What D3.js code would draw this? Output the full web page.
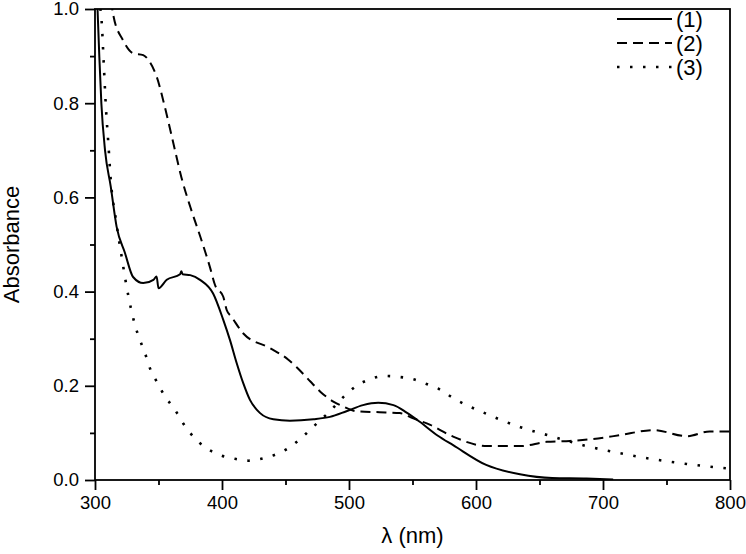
<!DOCTYPE html>
<html>
<head>
<meta charset="utf-8">
<script src="https://cdn.jsdelivr.net/npm/d3@7"></script>
<style>
  html, body { margin: 0; padding: 0; background: #fff; }
  svg { display: block; }
  text { font-family: "Liberation Sans", Arial, sans-serif; fill: #000; }
</style>
</head>
<body>
<svg id="chart" width="746" height="554"></svg>
<script>
// ---- Data ----
const xTicks = [300, 400, 500, 600, 700, 800];
const xMinorTicks = [350, 450, 550, 650, 750];
const yTicks = [0.0, 0.2, 0.4, 0.6, 0.8, 1.0];
const yMinorTicks = [0.1, 0.3, 0.5, 0.7, 0.9];

const seriesNames = ["(1)", "(2)", "(3)"];

const lambda1 = [300, 302, 303.4, 305, 307.9, 312.4, 317, 323.6, 330, 338, 346, 348.5, 350, 356.5, 367, 368, 369, 375, 382.7, 393, 401, 406.3, 411.6, 416.8, 422, 430, 440.4, 453.5, 472, 485, 498, 511, 523, 535, 545.4, 556, 570, 582, 608, 634.6, 660, 687, 708];
const abs1    = [1.15, 1.0, 0.899, 0.80, 0.70, 0.623, 0.538, 0.482, 0.431, 0.418, 0.425, 0.432, 0.407, 0.425, 0.437, 0.443, 0.437, 0.435, 0.425, 0.396, 0.34, 0.297, 0.248, 0.205, 0.17, 0.142, 0.129, 0.126, 0.129, 0.134, 0.146, 0.159, 0.164, 0.159, 0.143, 0.123, 0.094, 0.074, 0.032, 0.012, 0.004, 0.003, 0.001];

const lambda2 = [308, 312, 314.4, 322, 330, 338, 343, 348.6, 355, 361.7, 368, 375, 383, 390.5, 394.5, 401, 403.7, 407.6, 416.8, 437.8, 452, 459, 469.6, 477.6, 488, 495.5, 506, 524, 540, 550.6, 564, 582, 609, 635, 655.7, 674, 692, 713, 740, 766, 784, 800];
const abs2    = [1.12, 1.03, 0.987, 0.934, 0.906, 0.902, 0.888, 0.856, 0.792, 0.715, 0.643, 0.58, 0.516, 0.452, 0.414, 0.389, 0.361, 0.346, 0.311, 0.28, 0.256, 0.239, 0.209, 0.187, 0.166, 0.156, 0.146, 0.144, 0.142, 0.131, 0.117, 0.092, 0.072, 0.072, 0.081, 0.083, 0.087, 0.095, 0.106, 0.093, 0.103, 0.103];

const lambda3 = [300, 304.3, 305.2, 307, 308.7, 310.5, 312.4, 316.5, 321, 324.4, 328.9, 331.5, 335.4, 339.4, 343.3, 348.6, 355, 363, 369.5, 377.4, 388, 398.4, 410, 420.7, 432.5, 443, 452, 464, 474.6, 485, 495.5, 506, 516.5, 528.3, 539, 550.6, 561, 571, 582, 608.6, 635, 658, 687, 713, 740, 766, 800];
const abs3    = [1.25, 1.0, 0.975, 0.877, 0.786, 0.715, 0.637, 0.552, 0.474, 0.418, 0.357, 0.329, 0.297, 0.269, 0.237, 0.209, 0.178, 0.149, 0.12, 0.092, 0.067, 0.053, 0.045, 0.041, 0.046, 0.055, 0.067, 0.093, 0.12, 0.146, 0.176, 0.2, 0.214, 0.221, 0.219, 0.214, 0.204, 0.193, 0.174, 0.140, 0.112, 0.094, 0.072, 0.057, 0.044, 0.034, 0.024];

// ---- Layout ----
const svg = d3.select("#chart");
const X0 = 95, X1 = 730, Y0 = 9, Y1 = 480;

const x = d3.scaleLinear().domain([300, 800]).range([X0, X1]);
const y = d3.scaleLinear().domain([0, 1.0]).range([Y1, Y0]);

svg.append("defs").append("clipPath").attr("id", "clip")
  .append("rect").attr("x", X0).attr("y", Y0).attr("width", X1 - X0).attr("height", Y1 - Y0);

const styles = [
  { dash: null, width: 2 },
  { dash: "10,6", width: 2 },
  { dash: "2.5,10.5", width: 2.6 }
];

const series = [
  lambda1.map((l, i) => ({ l, a: abs1[i] })),
  lambda2.map((l, i) => ({ l, a: abs2[i] })),
  lambda3.map((l, i) => ({ l, a: abs3[i] }))
];

const line = d3.line().x(d => x(d.l)).y(d => y(d.a)).curve(d3.curveMonotoneX);

const plot = svg.append("g").attr("clip-path", "url(#clip)");
series.forEach((s, i) => {
  plot.append("path").datum(s)
    .attr("d", line)
    .attr("fill", "none")
    .attr("stroke", "#000")
    .attr("stroke-width", styles[i].width)
    .attr("stroke-dasharray", styles[i].dash);
});

// ---- Axes ----
function styleAxis(g) {
  g.select(".domain").remove();
  g.selectAll("line").attr("stroke", "#000").attr("stroke-width", 1.8);
  g.selectAll("text").style("font-size", "18.5px").style("font-family", '"Liberation Sans", Arial, sans-serif');
}

svg.append("g").attr("transform", `translate(0,${Y1})`)
  .call(d3.axisBottom(x).tickValues(xTicks).tickSize(10).tickPadding(6).tickFormat(d3.format("d")))
  .call(styleAxis);
svg.append("g").attr("transform", `translate(0,${Y1})`)
  .call(d3.axisBottom(x).tickValues(xMinorTicks).tickSize(5).tickFormat(""))
  .call(styleAxis);

svg.append("g").attr("transform", `translate(${X0},0)`)
  .call(d3.axisLeft(y).tickValues(yTicks).tickSize(10).tickPadding(6).tickFormat(d3.format(".1f")))
  .call(styleAxis);
svg.append("g").attr("transform", `translate(${X0},0)`)
  .call(d3.axisLeft(y).tickValues(yMinorTicks).tickSize(5).tickFormat(""))
  .call(styleAxis);

// Frame
svg.append("rect").attr("x", X0).attr("y", Y0).attr("width", X1 - X0).attr("height", Y1 - Y0)
  .attr("fill", "none").attr("stroke", "#000").attr("stroke-width", 1.8);

// Axis titles
svg.append("text").attr("x", (X0 + X1) / 2).attr("y", 543)
  .attr("text-anchor", "middle").style("font-size", "22px").text("λ (nm)");
svg.append("text").attr("transform", `translate(19,${(Y0 + Y1) / 2}) rotate(-90)`)
  .attr("text-anchor", "middle").style("font-size", "22px").text("Absorbance");

// Legend
const legendY = [19, 43, 67];
seriesNames.forEach((name, i) => {
  svg.append("line").attr("x1", 617).attr("x2", 672).attr("y1", legendY[i]).attr("y2", legendY[i])
    .attr("stroke", "#000").attr("stroke-width", styles[i].width)
    .attr("stroke-dasharray", styles[i].dash);
  svg.append("text").attr("x", 676).attr("y", legendY[i] + 8)
    .style("font-size", "22px").text(name);
});
</script>
</body>
</html>
